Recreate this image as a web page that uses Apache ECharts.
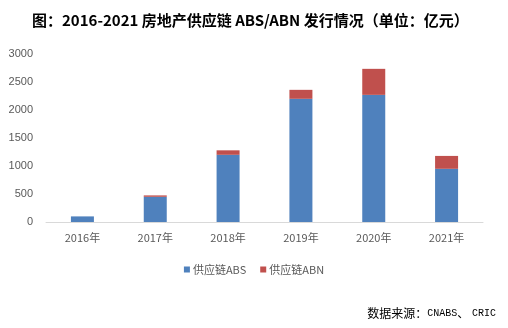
<!DOCTYPE html>
<html><head><meta charset="utf-8">
<script src="https://cdn.jsdelivr.net/npm/echarts@6/dist/echarts.min.js"></script>
<style>html,body{margin:0;padding:0;background:#fff}#c{width:508px;height:328px}</style>
</head><body><div id="c"></div>
<script>
const categories = ['2016年','2017年','2018年','2019年','2020年','2021年'];
const absValues = [100, 450, 1200, 2200, 2270, 950];
const abnValues = [0, 25, 80, 160, 465, 230];
const seriesNames = ['供应链ABS','供应链ABN'];
const yTicks = [0, 500, 1000, 1500, 2000, 2500, 3000];

const chart = echarts.init(document.getElementById('c'), null, {renderer:'canvas'});
chart.setOption({
  animation:false,
  backgroundColor:'#fff',
  title:[{
    text:'图：2016-2021 房地产供应链 ABS/ABN 发行情况（单位：亿元）',
    left:27, top:8,
    textStyle:{fontFamily:'"Noto Sans CJK SC"',fontWeight:'bold',fontSize:15,color:'#000'}
  },{
    text:'{c|数据来源：}{m|CNABS}{c|、 }{m|CRIC}',
    right:7, top:302,
    textStyle:{
      fontWeight:'normal',
      rich:{
        c:{fontFamily:'"Noto Sans CJK SC"',fontSize:12,fontWeight:'normal',color:'#000'},
        m:{fontFamily:'"Liberation Mono", monospace',fontSize:10,fontWeight:'normal',color:'#000'}
      }
    }
  }],
  legend:{
    data:seriesNames, top:259, left:'center',
    itemWidth:6, itemHeight:6, itemGap:14,
    icon:'rect',
    textStyle:{fontFamily:'"Noto Sans CJK SC"',fontSize:11,color:'#595959',padding:[0,0,0,-2]}
  },
  grid:{left:46, right:25, top:54, bottom:106},
  xAxis:{
    type:'category', data:categories,
    axisLine:{lineStyle:{color:'#d9d9d9'}},
    axisTick:{show:false},
    axisLabel:{fontFamily:'"Noto Sans CJK SC"',fontSize:11,color:'#595959',margin:10}
  },
  yAxis:{
    type:'value', min:yTicks[0], max:yTicks[yTicks.length-1], interval:500,
    splitLine:{show:false},
    axisLine:{show:false}, axisTick:{show:false},
    axisLabel:{fontFamily:'"Liberation Sans", Arial',fontSize:11,color:'#595959',margin:13,
      formatter:function(v){return String(v);}}
  },
  series:[
    {name:seriesNames[0], type:'bar', stack:'a', data:absValues, barWidth:23, itemStyle:{color:'#4f81bd'}},
    {name:seriesNames[1], type:'bar', stack:'a', data:abnValues, barWidth:23, itemStyle:{color:'#c0504d'}}
  ]
});
</script></body></html>
